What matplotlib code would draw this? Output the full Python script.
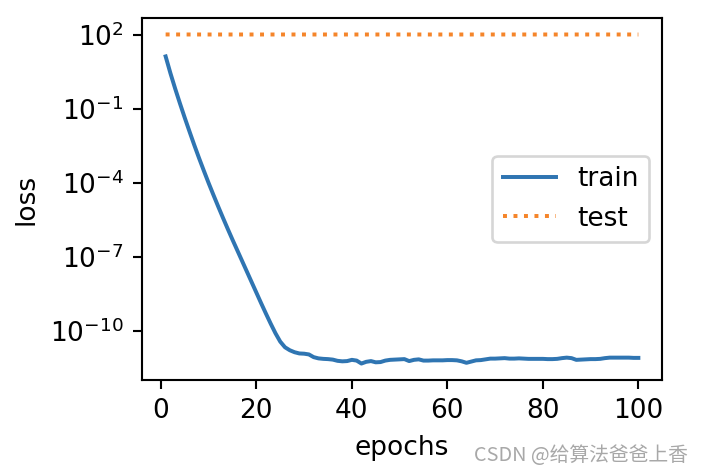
import numpy as np
import matplotlib
matplotlib.use("Agg")
import matplotlib.pyplot as plt

# epochs 1..100
epochs = list(range(1, 101))

# log10 of train loss
train_log10 = [
    1.13, 0.45, -0.18, -0.78, -1.36, -1.92, -2.47, -3.00, -3.51, -4.01,
    -4.49, -4.96, -5.42, -5.87, -6.31, -6.74, -7.17, -7.60, -8.03, -8.46,
    -8.89, -9.31, -9.72, -10.11, -10.45, -10.68, -10.80, -10.88, -10.93, -10.94,
    -10.97, -11.08, -11.13, -11.15, -11.16, -11.18, -11.23, -11.25, -11.24, -11.19,
    -11.22, -11.34, -11.27, -11.24, -11.29, -11.28, -11.22, -11.19, -11.18, -11.17,
    -11.16, -11.24, -11.19, -11.17, -11.22, -11.22, -11.21, -11.21, -11.21, -11.20,
    -11.20, -11.21, -11.25, -11.31, -11.26, -11.21, -11.20, -11.17, -11.14, -11.14,
    -11.13, -11.12, -11.14, -11.14, -11.13, -11.14, -11.15, -11.15, -11.15, -11.15,
    -11.16, -11.16, -11.15, -11.12, -11.10, -11.12, -11.19, -11.18, -11.17, -11.16,
    -11.16, -11.15, -11.12, -11.10, -11.10, -11.10, -11.10, -11.10, -11.11, -11.11,
]

# test loss stays around 1e2
test_loss = [
    105.2, 105.1, 105.0, 105.0, 104.9, 104.9, 104.9, 104.8, 104.8, 104.8,
    104.8, 104.8, 104.8, 104.8, 104.8, 104.8, 104.8, 104.8, 104.8, 104.8,
    104.8, 104.8, 104.8, 104.8, 104.8, 104.8, 104.8, 104.8, 104.8, 104.8,
    104.8, 104.8, 104.8, 104.8, 104.8, 104.8, 104.8, 104.8, 104.8, 104.8,
    104.8, 104.8, 104.8, 104.8, 104.8, 104.8, 104.8, 104.8, 104.8, 104.8,
    104.8, 104.8, 104.8, 104.8, 104.8, 104.8, 104.8, 104.8, 104.8, 104.8,
    104.8, 104.8, 104.8, 104.8, 104.8, 104.8, 104.8, 104.8, 104.8, 104.8,
    104.8, 104.8, 104.8, 104.8, 104.8, 104.8, 104.8, 104.8, 104.8, 104.8,
    104.8, 104.8, 104.8, 104.8, 104.8, 104.8, 104.8, 104.8, 104.8, 104.8,
    104.8, 104.8, 104.8, 104.8, 104.8, 104.8, 104.8, 104.8, 104.8, 104.8,
]

train_loss = 10 ** np.array(train_log10)

dpi = 190
fig = plt.figure(figsize=(704 / dpi, 474 / dpi), dpi=dpi)
ax = fig.add_axes([142 / 704, 1 - 380 / 474, 520 / 704, 362 / 474])

ax.plot(epochs, train_loss, '-', color='#2f75b2', label='train')
ax.plot(epochs, test_loss, ':', color='#f5852a', label='test')
ax.set_yscale('log')
ax.set_xlabel('epochs')
ax.set_ylabel('loss')
ax.legend(loc='center right')

fig.text(688 / 704, 1 - 455 / 474, 'CSDN @给算法爸爸上香', ha='right', va='center',
         fontsize=7.5, color='#a8a8a8', family=['Noto Sans CJK SC', 'DejaVu Sans'])

plt.savefig('out.png', dpi=dpi)
